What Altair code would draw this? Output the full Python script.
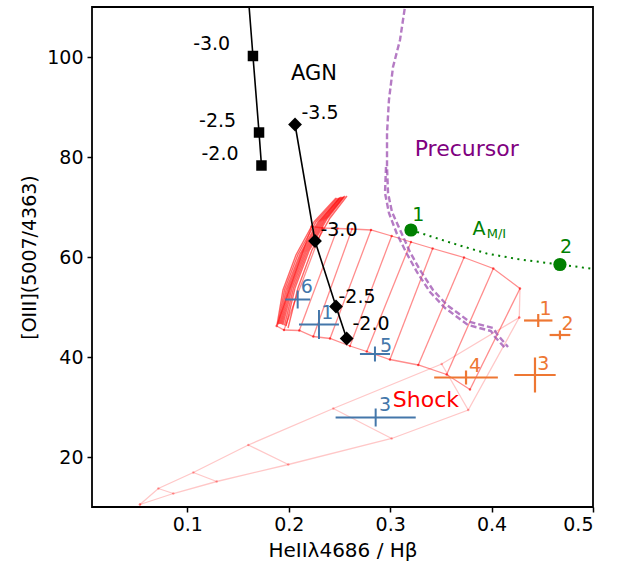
import altair as alt
import pandas as pd

# ---------------- data ----------------
X_DOMAIN = [0.006, 0.5]
Y_DOMAIN = [10, 110]
X_TICKS = [0.1, 0.2, 0.3, 0.4, 0.5]
Y_TICKS = [20, 40, 60, 80, 100]

# AGN sequence with squares (line continues above the frame)
agn_sq_x = [0.1590, 0.1647, 0.1707, 0.1731]
agn_sq_y = [115.0, 100.2, 84.9, 78.3]
agn_sq_lab = ["-3.0", "-2.5", "-2.0"]
agn_sq_lab_x = [0.1240, 0.1299, 0.1322]
agn_sq_lab_y = [102.7, 87.3, 80.6]

# AGN sequence with diamonds
agn_di_x = [0.2062, 0.2259, 0.2466, 0.2571]
agn_di_y = [86.5, 63.2, 50.1, 43.7]
agn_di_lab = ["-3.5", "-3.0", "-2.5", "-2.0"]
agn_di_lab_x = [0.2308, 0.2495, 0.2673, 0.2811]
agn_di_lab_y = [88.9, 65.4, 52.1, 46.6]

# precursor curve (double dashed)
prec_x = [0.3156, 0.3097, 0.3028, 0.2988, 0.2969, 0.2969, 0.2979, 0.3018, 0.3107,
          0.3195, 0.3294, 0.3422, 0.3560, 0.3787, 0.4014, 0.4053, 0.4162]
prec_y = [111.4, 103.4, 98.0, 91.4, 84.8, 78.0, 72.8, 69.0, 65.0,
          61.0, 57.4, 53.4, 50.4, 47.0, 45.8, 44.6, 42.0]
prec2_x = [0.2959, 0.2949, 0.2988, 0.3067, 0.3166, 0.3264, 0.3393, 0.3541,
           0.3767, 0.3994, 0.4034, 0.4142]
prec2_y = [78.0, 72.8, 68.8, 64.6, 60.6, 57.0, 53.0, 49.8, 46.4, 45.2, 44.0, 41.6]

# A_M/I sequence (green dotted)
ami_x = [0.3205, 0.3622, 0.3952, 0.4280, 0.4674, 0.5050]
ami_y = [65.4, 62.7, 60.7, 59.5, 58.5, 57.5]
ami_pt_x = [0.3205, 0.4674]
ami_pt_y = [65.4, 58.5]
ami_lab = ["1", "2"]
ami_lab_x = [0.3277, 0.4734]
ami_lab_y = [68.4, 62.1]

# shock grid (upper part): top and bottom boundaries, joined by rungs
shock_top_x = [0.2226, 0.2334, 0.2480, 0.2624, 0.2811, 0.3015, 0.3205, 0.3419, 0.3728, 0.4017, 0.4280]
shock_top_y = [66.1, 65.8, 65.7, 65.6, 65.4, 64.2, 63.0, 61.7, 59.9, 57.7, 53.7]
shock_bot_x = [0.1881, 0.1953, 0.2104, 0.2242, 0.2407, 0.2604, 0.2769, 0.2998, 0.3277, 0.3557, 0.3787]
shock_bot_y = [46.2, 45.4, 45.3, 44.1, 43.7, 42.2, 41.1, 39.5, 38.4, 36.5, 33.5]

# dense low-velocity strip on the left
strip_x = [
    [0.1884, 0.1943, 0.2071, 0.2249, 0.2466],
    [0.1894, 0.1958, 0.2091, 0.2268, 0.2480],
    [0.1904, 0.1973, 0.2111, 0.2288, 0.2495],
    [0.1914, 0.1988, 0.2125, 0.2303, 0.2505],
    [0.1924, 0.2002, 0.2140, 0.2318, 0.2515],
    [0.1933, 0.2017, 0.2155, 0.2333, 0.2525],
    [0.1943, 0.2032, 0.2170, 0.2348, 0.2535],
    [0.1958, 0.2047, 0.2185, 0.2362, 0.2545],
    [0.1973, 0.2062, 0.2200, 0.2377, 0.2555],
    [0.1993, 0.2091, 0.2229, 0.2407, 0.2574],
]
strip_y = [
    [46.4, 53.4, 60.4, 67.0, 71.8],
    [46.5, 53.4, 60.5, 67.0, 71.8],
    [46.6, 53.4, 60.6, 67.0, 71.8],
    [46.6, 53.5, 60.7, 67.1, 71.9],
    [46.6, 53.6, 60.8, 67.2, 72.0],
    [46.5, 53.7, 60.9, 67.3, 72.0],
    [46.4, 53.8, 61.0, 67.4, 72.0],
    [46.3, 53.8, 61.1, 67.5, 72.1],
    [46.2, 53.8, 61.2, 67.6, 72.2],
    [45.8, 53.8, 61.4, 67.8, 72.2],
]

# shock grid (lower, faint part)
low_up_x = [0.0533, 0.0714, 0.1059, 0.1601, 0.2439, 0.3508, 0.4273]
low_up_y = [10.5, 13.7, 16.9, 22.4, 29.7, 38.6, 47.9]
low_lo_x = [0.0533, 0.0862, 0.1290, 0.1996, 0.3015, 0.3770, 0.4273]
low_lo_y = [10.5, 12.7, 15.1, 18.5, 23.7, 29.4, 47.9]

# observed knots (blue) and regions (orange)
blue_lab = ["6", "1", "5", "3"]
blue_x = [0.2088, 0.2298, 0.2850, 0.2857]
blue_y = [51.5, 46.5, 40.6, 27.9]
blue_xerr = [0.0123, 0.0197, 0.0148, 0.0395]
blue_yerr = [1.8, 2.9, 1.5, 1.8]
blue_lab_x = [0.2177, 0.2380, 0.2960, 0.2949]
blue_lab_y = [54.1, 48.9, 42.2, 30.4]

orange_lab = ["1", "2", "3", "4"]
orange_x = [0.4460, 0.4674, 0.4428, 0.3748]
orange_y = [47.3, 44.4, 36.4, 35.9]
orange_xerr = [0.0140, 0.0102, 0.0204, 0.0314]
orange_yerr = [1.3, 0.9, 3.5, 1.4]
orange_lab_x = [0.4533, 0.4750, 0.4510, 0.3836]
orange_lab_y = [49.6, 46.7, 38.7, 38.2]

# annotations
ann_agn = ("AGN", 0.2249, 96.6)
ann_shock = ("Shock", 0.3353, 31.5)
ann_prec = ("Precursor", 0.3755, 81.7)
ann_a = ("A", 0.3876, 65.6)
ann_mi = ("M/I", 0.4048, 64.6)

# ---------------- tables ----------------
def poly(name, xs, ys):
    return pd.DataFrame({"x": xs, "y": ys, "seg": name, "o": list(range(len(xs)))})

upper = [poly("top", shock_top_x, shock_top_y), poly("bot", shock_bot_x, shock_bot_y)]
for j in range(len(shock_top_x)):
    upper.append(poly(f"r{j}", [shock_bot_x[j], shock_top_x[j]], [shock_bot_y[j], shock_top_y[j]]))
upper_df = pd.concat(upper, ignore_index=True)
upper_pts = pd.DataFrame({"x": shock_top_x + shock_bot_x, "y": shock_top_y + shock_bot_y})

lower = [poly("lu", low_up_x, low_up_y), poly("ll", low_lo_x, low_lo_y),
         poly("edge", [shock_top_x[-1], low_up_x[-1]], [shock_top_y[-1], low_up_y[-1]])]
for k in range(1, len(low_up_x) - 1):
    lower.append(poly(f"k{k}", [low_up_x[k], low_lo_x[k]], [low_up_y[k], low_lo_y[k]]))
lower_df = pd.concat(lower, ignore_index=True)
lower_pts = pd.DataFrame({"x": low_up_x + low_lo_x, "y": low_up_y + low_lo_y})

strip_df = pd.concat([poly(f"s{i}", sx, sy) for i, (sx, sy) in enumerate(zip(strip_x, strip_y))],
                     ignore_index=True)

prec_df = pd.concat([poly("p1", prec_x, prec_y), poly("p2", prec2_x, prec2_y)], ignore_index=True)
ami_df = poly("ami", ami_x, ami_y)
ami_pts = pd.DataFrame({"x": ami_pt_x, "y": ami_pt_y})
ami_txt = pd.DataFrame({"x": ami_lab_x, "y": ami_lab_y, "t": ami_lab})

sq_df = poly("sq", agn_sq_x, agn_sq_y)
sq_pts = sq_df.iloc[1:]
di_df = poly("di", agn_di_x, agn_di_y)
sq_txt = pd.DataFrame({"x": agn_sq_lab_x, "y": agn_sq_lab_y, "t": agn_sq_lab})
di_txt = pd.DataFrame({"x": agn_di_lab_x, "y": agn_di_lab_y, "t": agn_di_lab})


def err_df(xs, ys, xe, ye):
    d = pd.DataFrame({"x": xs, "y": ys, "xe": xe, "ye": ye})
    d["x1"] = d.x - d.xe
    d["x2"] = d.x + d.xe
    d["y1"] = d.y - d.ye
    d["y2"] = d.y + d.ye
    return d


blue_df = err_df(blue_x, blue_y, blue_xerr, blue_yerr)
orange_df = err_df(orange_x, orange_y, orange_xerr, orange_yerr)
blue_txt = pd.DataFrame({"x": blue_lab_x, "y": blue_lab_y, "t": blue_lab})
orange_txt = pd.DataFrame({"x": orange_lab_x, "y": orange_lab_y, "t": orange_lab})

ann = lambda a: pd.DataFrame({"t": [a[0]], "x": [a[1]], "y": [a[2]]})

# ---------------- chart ----------------
FONT = "DejaVu Sans"
XT = "HeIIλ4686 / Hβ"
YT = "[OIII](5007/4363)"
xs = alt.Scale(domain=X_DOMAIN, nice=False, zero=False)
ys = alt.Scale(domain=Y_DOMAIN, nice=False, zero=False)

x_axis = alt.Axis(values=X_TICKS, format=".1f", title=XT, grid=False, domain=False,
                  tickSize=5, tickWidth=1.5, tickColor="black", labelFontSize=19, titleFontSize=20,
                  labelFont=FONT, titleFont=FONT, labelColor="black", titleColor="black",
                  titleFontWeight="normal", labelPadding=3, titlePadding=6)
y_axis = alt.Axis(values=Y_TICKS, format="d", title=YT, grid=False, domain=False,
                  tickSize=5, tickWidth=1.5, tickColor="black", labelFontSize=19, titleFontSize=19,
                  labelFont=FONT, titleFont=FONT, labelColor="black", titleColor="black",
                  titleFontWeight="normal", labelPadding=4, titlePadding=7)

X = lambda f="x": alt.X(f"{f}:Q", scale=xs, axis=x_axis, title=XT)
Y = lambda f="y": alt.Y(f"{f}:Q", scale=ys, axis=y_axis, title=YT)

lower_l = alt.Chart(lower_df).mark_line(color="red", opacity=0.22, strokeWidth=1.3, clip=True).encode(
    x=X(), y=Y(), detail="seg:N", order="o:Q")
lower_p = alt.Chart(lower_pts).mark_point(shape="circle", filled=True, size=6, color="red",
                                          opacity=0.3).encode(x=X(), y=Y())
upper_l = alt.Chart(upper_df).mark_line(color="red", opacity=0.45, strokeWidth=1.3).encode(
    x=X(), y=Y(), detail="seg:N", order="o:Q")
upper_p = alt.Chart(upper_pts).mark_point(shape="circle", filled=True, size=6, color="red",
                                          opacity=0.6).encode(x=X(), y=Y())
strip_l = alt.Chart(strip_df).mark_line(color="red", opacity=0.6, strokeWidth=1.4).encode(
    x=X(), y=Y(), detail="seg:N", order="o:Q")

prec_l = alt.Chart(prec_df).mark_line(color="#9c4fb0", opacity=0.75, strokeWidth=2.4,
                                      strokeDash=[6, 3], clip=True).encode(
    x=X(), y=Y(), detail="seg:N", order="o:Q")

ami_l = alt.Chart(ami_df).mark_line(color="green", strokeWidth=2, strokeDash=[2, 4.5], clip=True).encode(
    x=X(), y=Y(), order="o:Q")
ami_p = alt.Chart(ami_pts).mark_point(shape="circle", filled=True, size=175, color="green",
                                      opacity=1).encode(x=X(), y=Y())
ami_t = alt.Chart(ami_txt).mark_text(font=FONT, fontSize=19, color="green").encode(
    x=X(), y=Y(), text="t:N")

sq_l = alt.Chart(sq_df).mark_line(color="black", strokeWidth=1.6, clip=True).encode(
    x=X(), y=Y(), order="o:Q")
sq_p = alt.Chart(sq_pts).mark_point(shape="square", filled=True, size=110, color="black",
                                    opacity=1).encode(x=X(), y=Y())
di_l = alt.Chart(di_df).mark_line(color="black", strokeWidth=1.6).encode(x=X(), y=Y(), order="o:Q")
di_p = alt.Chart(di_df).mark_point(shape="diamond", filled=True, size=190, color="black",
                                   opacity=1).encode(x=X(), y=Y())
sq_t = alt.Chart(sq_txt).mark_text(font=FONT, fontSize=19, color="black").encode(
    x=X(), y=Y(), text="t:N")
di_t = alt.Chart(di_txt).mark_text(font=FONT, fontSize=19, color="black").encode(
    x=X(), y=Y(), text="t:N")


def crosses(df, color, width):
    h = alt.Chart(df).mark_rule(color=color, strokeWidth=width).encode(x=X("x1"), x2="x2", y=Y())
    v = alt.Chart(df).mark_rule(color=color, strokeWidth=width).encode(x=X(), y=Y("y1"), y2="y2")
    return [h, v]


blue_t = alt.Chart(blue_txt).mark_text(font=FONT, fontSize=19, color="#4477AA").encode(
    x=X(), y=Y(), text="t:N")
orange_t = alt.Chart(orange_txt).mark_text(font=FONT, fontSize=19, color="#EE7733").encode(
    x=X(), y=Y(), text="t:N")

agn_t = alt.Chart(ann(ann_agn)).mark_text(font=FONT, fontSize=21, color="black").encode(
    x=X(), y=Y(), text="t:N")
shock_t = alt.Chart(ann(ann_shock)).mark_text(font=FONT, fontSize=22, color="red").encode(
    x=X(), y=Y(), text="t:N")
prec_t = alt.Chart(ann(ann_prec)).mark_text(font=FONT, fontSize=22, color="purple").encode(
    x=X(), y=Y(), text="t:N")
a_t = alt.Chart(ann(ann_a)).mark_text(font=FONT, fontSize=19, color="green").encode(
    x=X(), y=Y(), text="t:N")
mi_t = alt.Chart(ann(ann_mi)).mark_text(font=FONT, fontSize=13, color="green").encode(
    x=X(), y=Y(), text="t:N")

layers = [lower_l, lower_p, upper_l, upper_p, strip_l, prec_l, ami_l, ami_p, ami_t,
          sq_l, sq_p, di_l, di_p, sq_t, di_t]
layers += crosses(blue_df, "#4477AA", 2)
layers += crosses(orange_df, "#EE7733", 2.2)
layers += [blue_t, orange_t, agn_t, shock_t, prec_t, a_t, mi_t]

chart = alt.layer(*layers).properties(
    width=501, height=500,
    background="white",
    autosize=alt.AutoSizeParams(type="none"),
    padding={"left": 92, "top": 7, "right": 31, "bottom": 57},
).configure_view(stroke="black", strokeWidth=1.8)

chart.save("out.html", embed_options={"renderer": "svg", "actions": False})
